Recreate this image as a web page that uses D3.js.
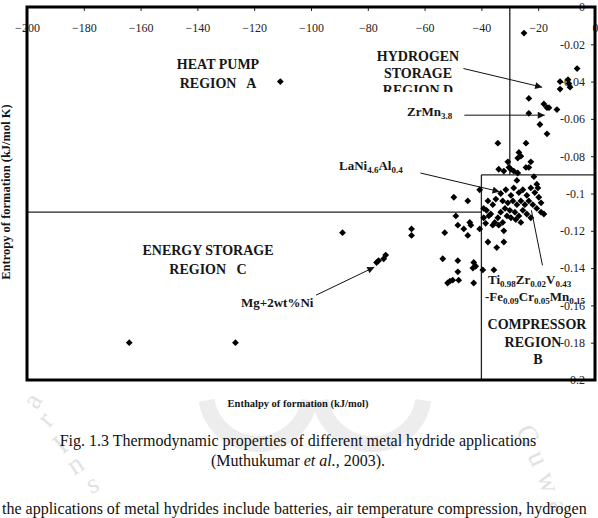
<!DOCTYPE html>
<html>
<head>
<meta charset="utf-8">
<script src="https://cdn.jsdelivr.net/npm/d3@7/dist/d3.min.js"></script>
<style>
body { margin: 0; background: #fff; }
svg { display: block; font-family: "Liberation Serif", "Times New Roman", serif; }
.tick text { font-size: 12px; fill: #222; font-family: "Liberation Serif", serif; }
.tick line { stroke: #222; }
.lbl { font-weight: bold; font-size: 14px; fill: #161616; white-space: pre; }
.chem { font-weight: bold; font-size: 13px; fill: #161616; }
</style>
</head>
<body>
<script>
var width = 598, height = 518;

// [enthalpy kJ/mol, entropy kJ/mol K]
var farPoints = [[-110.8,-0.040],[-164.0,-0.180],[-126.6,-0.180],[-88.9,-0.121],[-64.6,-0.119],[-64.6,-0.1225]];
var mgNi = [[-76.9,-0.137],[-76.2,-0.136],[-74.4,-0.135],[-73.7,-0.133]];
var hydrogenPts = [[-25.0,-0.014],[-6.3,-0.033],[-12.3,-0.040],[-12.3,-0.044],[-9.5,-0.039],[-9.2,-0.041],
  [-8.8,-0.043],[-23.3,-0.049],[-23.3,-0.057],[-18.0,-0.052],[-16.9,-0.054],[-16.2,-0.054],[-13.4,-0.055],
  [-19.4,-0.063],[-16.9,-0.068],[-34.2,-0.073],[-24.3,-0.073],[-26.8,-0.078],[-26.1,-0.080],[-27.2,-0.081],
  [-30.7,-0.083],[-30.3,-0.086],[-29.6,-0.087],[-28.6,-0.088],[-33.9,-0.087],[-32.1,-0.088],[-22.6,-0.083],
  [-24.3,-0.086],[-23.3,-0.086],[-27.2,-0.089]];
var densePts = [[-21.5,-0.091],[-20.5,-0.095],[-20.1,-0.097],[-27.5,-0.093],[-40.6,-0.098],[-33.2,-0.100],
  [-31.4,-0.098],[-29.6,-0.101],[-28.6,-0.097],[-26.8,-0.0995],[-25.4,-0.098],[-24.0,-0.101],[-22.6,-0.097],
  [-21.2,-0.0995],[-19.8,-0.102],[-19.0,-0.105],[-32.5,-0.104],[-30.7,-0.105],[-28.9,-0.104],[-27.5,-0.106],
  [-26.1,-0.104],[-24.7,-0.106],[-23.3,-0.104],[-21.9,-0.106],[-20.5,-0.108],[-19.0,-0.110],[-18.0,-0.111],
  [-31.7,-0.108],[-30.0,-0.109],[-28.2,-0.110],[-26.8,-0.112],[-25.4,-0.109],[-24.0,-0.111],[-22.6,-0.113],
  [-29.6,-0.113],[-27.9,-0.114],[-26.1,-0.1155],[-31.0,-0.112],[-33.2,-0.110],[-34.2,-0.113],[-35.3,-0.1155],
  [-33.9,-0.117],[-32.5,-0.1155],[-36.7,-0.111],[-38.2,-0.109],[-37.4,-0.112],[-39.2,-0.108],[-36.0,-0.106],
  [-34.9,-0.103]];
var midPts = [[-49.7,-0.102],[-44.8,-0.104],[-37.7,-0.104],[-49.0,-0.112],[-48.3,-0.117],[-46.2,-0.119],
  [-44.1,-0.1155],[-43.7,-0.117],[-44.8,-0.1225],[-52.9,-0.121],[-40.6,-0.119],[-39.2,-0.113],[-38.5,-0.116],
  [-36.0,-0.117],[-32.1,-0.120],[-32.1,-0.126],[-37.7,-0.126],[-34.6,-0.129],[-53.6,-0.135],[-48.3,-0.136],
  [-42.7,-0.137],[-42.0,-0.139],[-43.0,-0.140],[-39.5,-0.141],[-35.6,-0.141],[-48.3,-0.142],[-51.9,-0.148],
  [-51.1,-0.147],[-50.1,-0.1465],[-48.0,-0.1465],[-42.7,-0.148]];

var xTicks = [-200,-180,-160,-140,-120,-100,-80,-60,-40,-20,0];
var yTicks = [0,-0.02,-0.04,-0.06,-0.08,-0.1,-0.12,-0.14,-0.16,-0.18,-0.2];

// region boundaries, in data units
var regionLines = [
  [[-200,-0.11],[-40,-0.11]],
  [[-40,-0.09],[-40,-0.2]],
  [[-40,-0.09],[0,-0.09]],
  [[-30,0],[-30,-0.09]]
];
// annotation arrows [from, to, head]
var arrows = [
  [[-46.3,-0.033],[-18.6,-0.043],true],
  [[-46.0,-0.058],[-17.7,-0.058],true],
  [[-61.5,-0.089],[-33.6,-0.099],true],
  [[-98.2,-0.1545],[-77.7,-0.1395],true],
  [[-18.5,-0.1385],[-22.4,-0.109],false]
];

var svg = d3.select("body").append("svg")
  .attr("width", width)
  .attr("height", height);

svg.append("rect").attr("width", width).attr("height", height).attr("fill", "#fff");

// faint watermark below the chart
var wm = svg.append("g").attr("fill", "none").attr("stroke", "#ededed").attr("stroke-width", 16);
wm.append("path").attr("d", d3.arc()({innerRadius: 52, outerRadius: 52, startAngle: Math.PI*0.55, endAngle: Math.PI*1.45}))
  .attr("transform", "translate(258,392)");
wm.append("path").attr("d", d3.arc()({innerRadius: 52, outerRadius: 52, startAngle: Math.PI*0.55, endAngle: Math.PI*1.45}))
  .attr("transform", "translate(372,392)");
var wmText = [["a",40,405,-60],["r",52,425,-50],["I",66,452,-40],["n",80,472,-32],["s",96,492,-24],
  ["G",520,440,60],["u",530,462,66],["w",540,485,72],["a",550,508,78]];
svg.append("g").selectAll("text").data(wmText).enter().append("text")
  .attr("transform", d => `translate(${d[1]},${d[2]}) rotate(${d[3]})`)
  .attr("text-anchor", "middle")
  .style("font-size", "28px")
  .attr("fill", "#e2e2e2")
  .text(d => d[0]);

var x = d3.scaleLinear().domain([-200, 0]).range([27, 595]);
var y = d3.scaleLinear().domain([0, -0.2]).range([7, 380]);

var xAxis = d3.axisBottom(x)
  .tickValues(xTicks)
  .tickSize(4)
  .tickPadding(12)
  .tickFormat(d => d3.format("d")(d));

svg.append("g")
  .attr("transform", `translate(0,${y(0)})`)
  .call(xAxis)
  .call(g => g.select(".domain").remove());

var yAxis = d3.axisLeft(y)
  .tickValues(yTicks)
  .tickSize(4)
  .tickPadding(6)
  .tickFormat(d => d === 0 ? "0" : String(+d.toFixed(2)));

svg.append("g")
  .attr("transform", `translate(${x(0)},0)`)
  .call(yAxis)
  .call(g => g.select(".domain").remove());

// region lines
svg.selectAll("line.region")
  .data(regionLines)
  .enter()
  .append("line")
  .attr("class", "region")
  .attr("x1", d => x(d[0][0])).attr("y1", d => y(d[0][1]))
  .attr("x2", d => x(d[1][0])).attr("y2", d => y(d[1][1]))
  .attr("stroke", "#222")
  .attr("stroke-width", 1.3);

// points
var allPts = farPoints.concat(mgNi, hydrogenPts, densePts, midPts);
var r = 3.4;
svg.selectAll("path.pt")
  .data(allPts)
  .enter()
  .append("path")
  .attr("class", "pt")
  .attr("d", `M0,${-r}L${r},0L0,${r}L${-r},0Z`)
  .attr("transform", d => `translate(${x(d[0])},${y(d[1])})`)
  .attr("fill", "#000");

// arrows
svg.append("defs").append("marker")
  .attr("id", "head")
  .attr("viewBox", "0 0 10 10")
  .attr("refX", 10).attr("refY", 5)
  .attr("markerWidth", 9).attr("markerHeight", 7)
  .attr("markerUnits", "userSpaceOnUse")
  .attr("orient", "auto")
  .append("path").attr("d", "M0,0L10,5L0,10Z").attr("fill", "#111");

svg.selectAll("line.arrow")
  .data(arrows)
  .enter()
  .append("line")
  .attr("class", "arrow")
  .attr("x1", d => x(d[0][0])).attr("y1", d => y(d[0][1]))
  .attr("x2", d => x(d[1][0])).attr("y2", d => y(d[1][1]))
  .attr("stroke", "#111")
  .attr("stroke-width", 1)
  .attr("marker-end", d => d[2] ? "url(#head)" : null);

// frame
svg.append("rect")
  .attr("x", 27).attr("y", 7)
  .attr("width", 568).attr("height", 373)
  .attr("fill", "none")
  .attr("stroke", "#000")
  .attr("stroke-width", 3);

// region labels
function label(txt, px, py, anchor) {
  return svg.append("text").attr("class", "lbl")
    .attr("x", px).attr("y", py)
    .attr("text-anchor", anchor || "middle")
    .text(txt);
}
label("HEAT PUMP", 218, 69);
label("REGION   A", 218, 88);
label("HYDROGEN", 418, 61);
label("STORAGE", 418, 78);
svg.append("clipPath").attr("id", "cutD").append("rect")
  .attr("x", 350).attr("y", 80).attr("width", 150).attr("height", 12);
label("REGION D", 418, 95).attr("clip-path", "url(#cutD)");
label("ENERGY STORAGE", 208, 255);
label("REGION   C", 208, 274);
label("COMPRESSOR", 537, 329);
label("REGION", 533, 347);
label("B", 538, 364);

// formulas with subscripts
function chem(parts, px, py) {
  var t = svg.append("text").attr("class", "chem").attr("x", px).attr("y", py);
  parts.forEach(p => {
    var s = t.append("tspan").text(p[0]);
    if (p[1]) s.style("font-size", "9px").attr("dy", 3);
    else s.attr("dy", p[2] ? -3 : 0);
  });
  return t;
}
chem([["ZrMn"],["3.8",true]], 407, 116);
chem([["LaNi"],["4.6",true],["Al",false,true],["0.4",true]], 339, 170);
chem([["Mg+2wt%Ni"]], 241, 307);
chem([["Ti"],["0.98",true],["Zr",false,true],["0.02",true],["V",false,true],["0.43",true]], 488, 284);
chem([["-Fe"],["0.09",true],["Cr",false,true],["0.05",true],["Mn",false,true],["0.15",true]], 485, 301);

// axis titles
svg.append("text")
  .attr("x", 298).attr("y", 407)
  .attr("text-anchor", "middle")
  .style("font-weight", "bold").style("font-size", "10.5px")
  .attr("fill", "#161616")
  .text("Enthalpy of formation (kJ/mol)");

svg.append("text")
  .attr("transform", "translate(10,192) rotate(-90)")
  .attr("text-anchor", "middle")
  .style("font-weight", "bold").style("font-size", "12.5px")
  .attr("fill", "#161616")
  .text("Entropy of formation (kJ/mol K)");

// caption
svg.append("text")
  .attr("x", 298).attr("y", 446)
  .attr("text-anchor", "middle")
  .style("font-size", "16px").attr("fill", "#111")
  .text("Fig. 1.3 Thermodynamic properties of different metal hydride applications");
var cap2 = svg.append("text")
  .attr("x", 298).attr("y", 466)
  .attr("text-anchor", "middle")
  .style("font-size", "16px").attr("fill", "#111");
cap2.append("tspan").text("(Muthukumar ");
cap2.append("tspan").style("font-style", "italic").text("et al.,");
cap2.append("tspan").text(" 2003).");

svg.append("text")
  .attr("x", 2).attr("y", 514)
  .style("font-size", "16px").attr("fill", "#111")
  .text("the applications of metal hydrides include batteries, air temperature compression, hydrogen");
</script>
</body>
</html>
